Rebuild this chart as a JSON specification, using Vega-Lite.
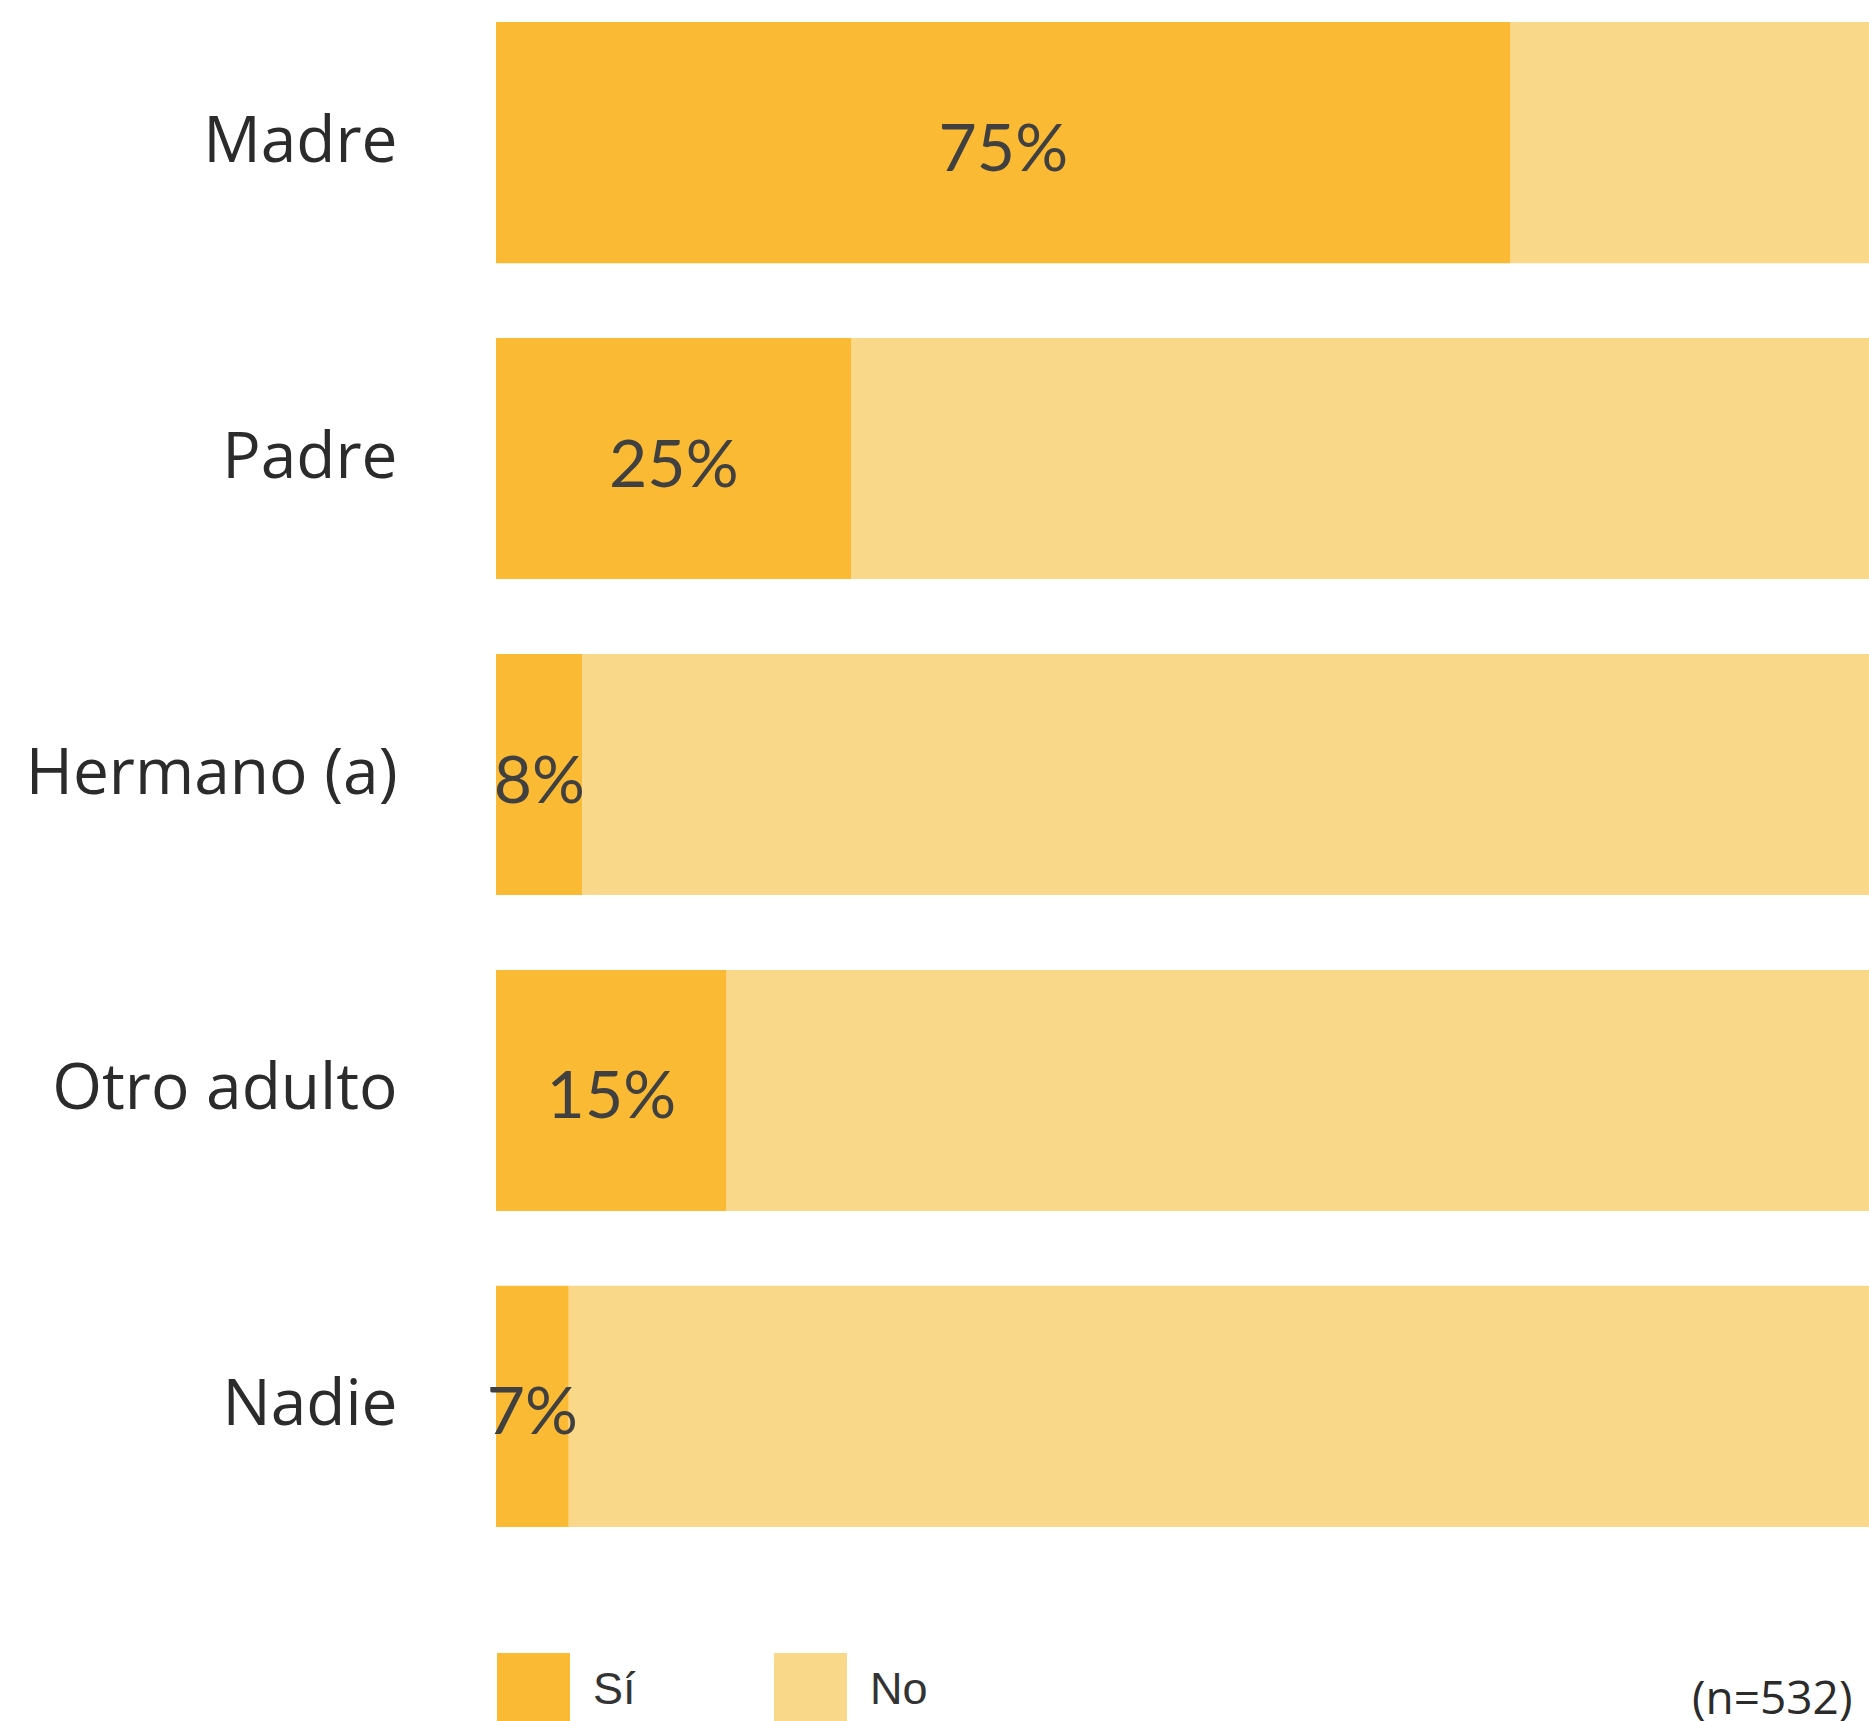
{
  "$schema": "https://vega.github.io/schema/vega-lite/v6.json",
  "autosize": {"type": "none"},
  "padding": {"left": 496, "top": 0, "right": 0, "bottom": 172},
  "width": 1373,
  "height": 1549,
  "background": "white",
  "config": {"view": {"stroke": null}},
  "data": {
    "values": [
      {"rel": "Madre", "resp": "Sí", "value": 73.9, "label": "75%"},
      {"rel": "Madre", "resp": "No", "value": 26.1, "label": ""},
      {"rel": "Padre", "resp": "Sí", "value": 25.9, "label": "25%"},
      {"rel": "Padre", "resp": "No", "value": 74.1, "label": ""},
      {"rel": "Hermano (a)", "resp": "Sí", "value": 6.3, "label": "8%"},
      {"rel": "Hermano (a)", "resp": "No", "value": 93.7, "label": ""},
      {"rel": "Otro adulto", "resp": "Sí", "value": 16.8, "label": "15%"},
      {"rel": "Otro adulto", "resp": "No", "value": 83.2, "label": ""},
      {"rel": "Nadie", "resp": "Sí", "value": 5.3, "label": "7%"},
      {"rel": "Nadie", "resp": "No", "value": 94.7, "label": ""}
    ]
  },
  "layer": [
    {
      "mark": {"type": "bar"},
      "encoding": {
        "y": {
          "field": "rel", "type": "nominal",
          "sort": ["Madre", "Padre", "Hermano (a)", "Otro adulto", "Nadie"],
          "scale": {"paddingInner": 0.237, "paddingOuter": 0.07},
          "axis": {
            "title": null, "domain": false, "ticks": false, "grid": false,
            "labelFont": "Open Sans", "labelFontSize": 64, "labelColor": "#2b2b2b",
            "labelPadding": 99, "labelLimit": 600
          }
        },
        "x": {
          "field": "value", "type": "quantitative", "stack": "zero",
          "scale": {"domain": [0, 100], "nice": false},
          "axis": {
            "domain": false, "ticks": false, "labels": false, "grid": false,
            "title": "(n=532)", "titleX": 1356, "titleY": 164,
            "titleAlign": "right", "titleBaseline": "alphabetic",
            "titleFont": "Open Sans", "titleFontWeight": "normal",
            "titleFontSize": 46, "titleColor": "#2b2b2b"
          }
        },
        "color": {
          "field": "resp", "type": "nominal",
          "scale": {"domain": ["Sí", "No"], "range": ["#FBBA33", "#F9D88A"]},
          "legend": {
            "orient": "none", "legendX": 1, "legendY": 1653,
            "direction": "horizontal", "title": null,
            "symbolType": "square", "symbolSize": 5329, "symbolStrokeWidth": 0,
            "symbolOpacity": 1,
            "labelFont": "Liberation Sans", "labelFontSize": 45, "labelColor": "#333333",
            "labelOffset": 23, "columnPadding": 138
          }
        },
        "order": {"field": "resp", "sort": "descending"}
      }
    },
    {
      "mark": {"type": "text", "font": "Lato", "fontSize": 66, "color": "#404040", "align": "center", "baseline": "middle", "dy": 8},
      "encoding": {
        "y": {
          "field": "rel", "type": "nominal",
          "sort": ["Madre", "Padre", "Hermano (a)", "Otro adulto", "Nadie"]
        },
        "x": {"field": "value", "type": "quantitative", "stack": "zero", "bandPosition": 0.5},
        "detail": {"field": "resp"},
        "order": {"field": "resp", "sort": "descending"},
        "text": {"field": "label"}
      }
    }
  ]
}
